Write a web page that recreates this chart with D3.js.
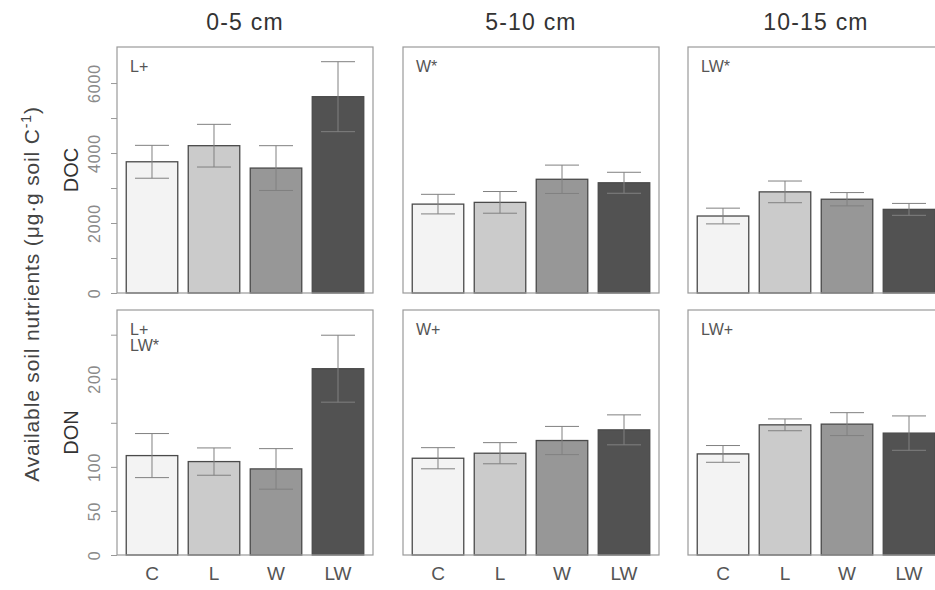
<!DOCTYPE html>
<html>
<head>
<meta charset="utf-8">
<script src="https://cdn.jsdelivr.net/npm/d3@7"></script>
<style>
body { margin: 0; background: #fff; }
svg { font-family: "Liberation Sans", Arial, sans-serif; display: block; }
</style>
</head>
<body>
<div id="chart"></div>
<script>
// treatments and soil depths
var treatments = ["C", "L", "W", "LW"];
var depths = ["0-5 cm", "5-10 cm", "10-15 cm"];

// DOC means and error (per depth, per treatment)
var docMean = [[3750, 4210, 3570, 5610], [2540, 2590, 3250, 3150], [2200, 2890, 2680, 2390]];
var docErr = [[470, 610, 640, 1000], [280, 310, 405, 300], [225, 310, 190, 170]];
// DON means and error
var donMean = [[112.8, 106, 97.7, 211.4], [109.8, 115.5, 129.9, 142], [114.7, 147.7, 148.5, 138.3]];
var donErr = [[25, 15.5, 23, 38], [12, 12, 16, 17], [9.5, 6.7, 13, 19.5]];

// significance notes in each panel
var docNotes = [["L+"], ["W*"], ["LW*"]];
var donNotes = [["L+", "LW*"], ["W+"], ["LW+"]];

var docTicks = [0, 1000, 2000, 3000, 4000, 5000, 6000];
var docLabels = [0, 2000, 4000, 6000];
var donTicks = [0, 50, 100, 150, 200, 250];
var donLabels = [0, 50, 100, 200];

var fills = ["#f3f3f3", "#cbcbcb", "#979797", "#525252"];

var W = 935, H = 590;
var panelW = 256;
var panelX = [117, 403, 688];

var rows = [
  { name: "DOC", mean: docMean, err: docErr, notes: docNotes, ticks: docTicks, labels: docLabels, max: 7030, top: 47, bottom: 293 },
  { name: "DON", mean: donMean, err: donErr, notes: donNotes, ticks: donTicks, labels: donLabels, max: 278, top: 310, bottom: 555 }
];

var svg = d3.select("#chart").append("svg").attr("width", W).attr("height", H);

var x = d3.scaleBand().domain(treatments).range([0, panelW])
  .paddingInner(0.169).paddingOuter(0.149);

rows.forEach(function(row, r) {
  var y = d3.scaleLinear().domain([0, row.max]).range([row.bottom, row.top]);

  // row label
  svg.append("text")
    .attr("transform", "translate(78," + ((row.top + row.bottom) / 2) + ") rotate(-90)")
    .attr("text-anchor", "middle")
    .attr("font-size", 20)
    .attr("fill", "#333")
    .text(row.name);

  depths.forEach(function(depth, d) {
    var g = svg.append("g").attr("transform", "translate(" + panelX[d] + ",0)");

    var data = treatments.map(function(t, i) {
      return { t: t, v: row.mean[d][i], e: row.err[d][i], fill: fills[i] };
    });

    g.selectAll("rect.bar")
      .data(data)
      .enter().append("rect")
      .attr("class", "bar")
      .attr("x", function(p) { return x(p.t); })
      .attr("width", x.bandwidth())
      .attr("y", function(p) { return y(p.v); })
      .attr("height", function(p) { return y(0) - y(p.v); })
      .attr("fill", function(p) { return p.fill; })
      .attr("stroke", "#4a4a4a")
      .attr("stroke-width", 1.3);

    // error bars
    var cap = 17;
    var eb = g.selectAll("g.err").data(data).enter().append("g")
      .attr("class", "err")
      .attr("stroke", "#808080")
      .attr("stroke-width", 1);
    eb.append("line")
      .attr("x1", function(p) { return x(p.t) + x.bandwidth() / 2; })
      .attr("x2", function(p) { return x(p.t) + x.bandwidth() / 2; })
      .attr("y1", function(p) { return y(p.v + p.e); })
      .attr("y2", function(p) { return y(p.v - p.e); });
    [1, -1].forEach(function(s) {
      eb.append("line")
        .attr("x1", function(p) { return x(p.t) + x.bandwidth() / 2 - cap; })
        .attr("x2", function(p) { return x(p.t) + x.bandwidth() / 2 + cap; })
        .attr("y1", function(p) { return y(p.v + s * p.e); })
        .attr("y2", function(p) { return y(p.v + s * p.e); });
    });

    // panel box
    g.append("rect")
      .attr("x", 0).attr("y", row.top)
      .attr("width", panelW).attr("height", row.bottom - row.top)
      .attr("fill", "none")
      .attr("stroke", "#9a9a9a")
      .attr("stroke-width", 1.2);

    // notes
    g.selectAll("text.note")
      .data(row.notes[d])
      .enter().append("text")
      .attr("class", "note")
      .attr("x", 13)
      .attr("y", function(n, i) { return row.top + 25 + i * 16; })
      .attr("font-size", 16)
      .attr("fill", "#555")
      .text(function(n) { return n; });

    // y axis only on first panel
    if (d === 0) {
      var ax = g.append("g")
        .call(d3.axisLeft(y).tickValues(row.ticks).tickSize(6)
          .tickFormat(function(v) { return row.labels.indexOf(v) >= 0 ? v : ""; }));
      ax.select(".domain").remove();
      ax.selectAll(".tick line").attr("stroke", "#999");
      ax.selectAll(".tick text")
        .attr("x", null).attr("dy", null)
        .attr("transform", "translate(-17,0) rotate(-90)")
        .attr("text-anchor", "middle")
        .attr("font-family", "Liberation Sans, Arial, sans-serif")
        .attr("font-size", 16)
        .attr("letter-spacing", 0.8)
        .attr("fill", "#8a8a8a");
    }

    if (r === 0) {
      svg.append("text")
        .attr("x", panelX[d] + panelW / 2)
        .attr("y", 30)
        .attr("text-anchor", "middle")
        .attr("font-size", 23)
        .attr("letter-spacing", 1.2)
        .attr("fill", "#333")
        .text(depth);
    } else {
      g.selectAll("text.cat")
        .data(treatments)
        .enter().append("text")
        .attr("class", "cat")
        .attr("x", function(t) { return x(t) + x.bandwidth() / 2; })
        .attr("y", 580)
        .attr("text-anchor", "middle")
        .attr("font-size", 19)
        .attr("fill", "#555")
        .text(function(t) { return t; });
    }
  });
});

// overall y label
var yl = svg.append("text")
  .attr("transform", "translate(39,294) rotate(-90)")
  .attr("text-anchor", "middle")
  .attr("font-size", 21)
  .attr("letter-spacing", 0.85)
  .attr("fill", "#444");
yl.append("tspan").text("Available soil nutrients (μg·g soil C");
yl.append("tspan").attr("dy", -8).attr("font-size", 14).text("-1");
yl.append("tspan").attr("dy", 8).text(")");
</script>
</body>
</html>
